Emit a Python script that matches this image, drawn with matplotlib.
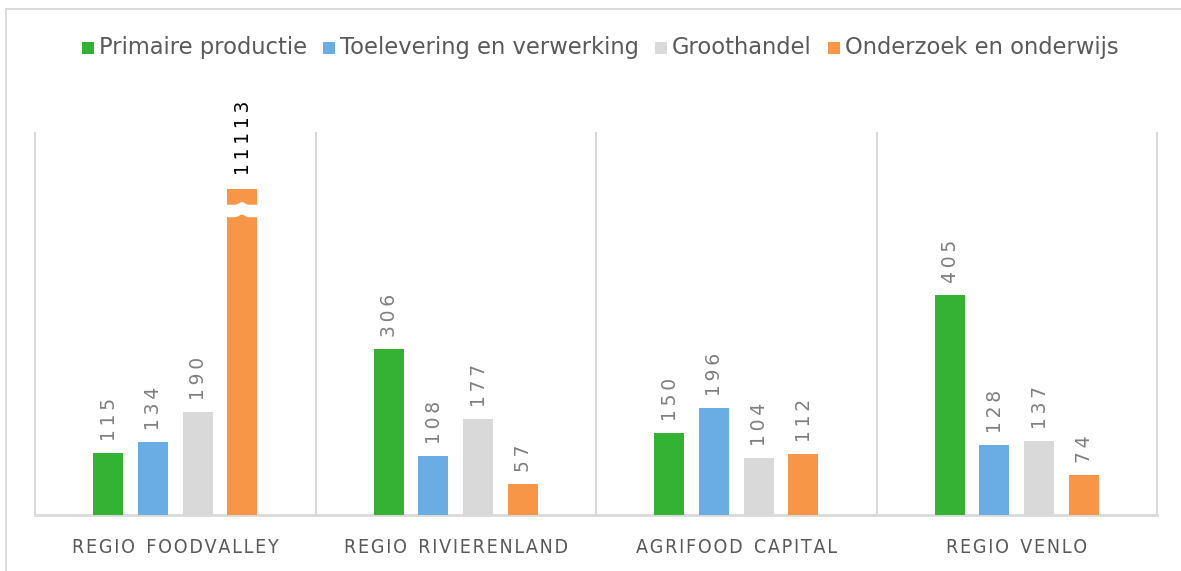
import matplotlib
matplotlib.use("Agg")
import matplotlib.pyplot as plt
import numpy as np
from matplotlib.patches import Rectangle, Polygon
from matplotlib import font_manager

categories = ["REGIO FOODVALLEY", "REGIO RIVIERENLAND", "AGRIFOOD CAPITAL", "REGIO VENLO"]
series = ["Primaire productie", "Toelevering en verwerking", "Groothandel", "Onderzoek en onderwijs"]
primaire = [115, 306, 150, 405]
toelevering = [134, 108, 196, 128]
groothandel = [190, 177, 104, 137]
onderzoek = [11113, 57, 112, 74]
colors = ["#33b234", "#6aade4", "#d9d9d9", "#f79646"]

cap_value = 600      # displayed height for the broken bar
ymax = 703

names = {f.name for f in font_manager.fontManager.ttflist}
narrow = "Liberation Sans Narrow" if "Liberation Sans Narrow" in names else None

W, H = 1181, 571
fig = plt.figure(figsize=(W/100, H/100), dpi=100)
ax = fig.add_axes([35/W, (H-515)/H, (1157-35)/W, (515-133)/H])
ax.set_xlim(-0.5, 3.5)
ax.set_ylim(0, ymax)
for s in ax.spines.values():
    s.set_visible(False)
ax.set_yticks([])
ax.set_xticks([])

data = [primaire, toelevering, groothandel, onderzoek]
offsets = [-0.238, -0.0795, 0.0795, 0.238]
width = 0.107
x = np.arange(len(categories))

def spaced(t):
    return "\u2009".join(t)

for si, (vals, off, col) in enumerate(zip(data, offsets, colors)):
    for xi, v in zip(x, vals):
        h = min(v, cap_value)
        ax.bar(xi + off, h, width, color=col, zorder=2)
        broken = v > cap_value
        ax.annotate(spaced(str(v)), (xi + off, h), xytext=(1, 12 if not broken else 14),
                    textcoords="offset pixels", rotation=90, ha="center", va="bottom",
                    fontsize=13.5, color="#000000" if broken else "#7f7f7f",
                    family="DejaVu Sans")
        if broken:
            bx0 = xi + off - width/2
            bx1 = xi + off + width/2
            t = np.linspace(0, 1, 40)
            bump = 5 * np.exp(-((t - 0.5) / 0.12) ** 2)
            xs = bx0 + (bx1 - bx0) * t
            top = 571 + bump
            bot = 548 + bump
            poly = np.vstack([np.column_stack([xs, bot]), np.column_stack([xs[::-1], top[::-1]])])
            ax.add_patch(Polygon(poly, closed=True, facecolor="white", edgecolor="none", zorder=3))

# separators and baseline
for sx in [-0.5, 0.5, 1.5, 2.5, 3.5]:
    ax.plot([sx, sx], [0, ymax], color="#d9d9d9", lw=1.5, zorder=1, clip_on=False)
ax.plot([-0.5, 3.5], [0, 0], color="#d9d9d9", lw=2, zorder=1, clip_on=False)

# category labels
for xi, c in zip(x, categories):
    if narrow:
        lab = "  ".join("\u2009".join(w) for w in c.split(" "))
        ax.text(xi, -0.085, lab, transform=ax.get_xaxis_transform(), ha="center", va="center",
                fontsize=15, color="#595959", family=narrow)
    else:
        lab = "  ".join("\u200a".join(w) for w in c.split(" "))
        ax.text(xi, -0.085, lab, transform=ax.get_xaxis_transform(), ha="center", va="center",
                fontsize=14, color="#595959", family="DejaVu Sans", fontstretch="condensed")

# legend (manual, baseline-aligned)
renderer = fig.canvas.get_renderer()
sq, gap_t, gap_e = 12, 5, 16
baseline_y = H - 54
texts, widths = [], []
for s in series:
    t = fig.text(0, baseline_y / H, s, fontsize=16.3, color="#595959", family="DejaVu Sans",
                 va="baseline", ha="left")
    texts.append(t)
    widths.append(t.get_window_extent(renderer).width)
total = sum(sq + gap_t + w for w in widths) + gap_e * (len(series) - 1)
cur = 600 - total / 2
for t, w, c in zip(texts, widths, colors):
    fig.add_artist(Rectangle((cur / W, (baseline_y) / H), sq / W, sq / H, transform=fig.transFigure,
                             facecolor=c, edgecolor="none"))
    t.set_x((cur + sq + gap_t) / W)
    cur += sq + gap_t + w + gap_e

# figure border
fig.add_artist(Rectangle((5.5/W, -0.05), 1.2, 1 - 9.5/H + 0.05, transform=fig.transFigure,
                         fill=False, edgecolor="#d9d9d9", lw=1.3))

fig.savefig("out.png", dpi=100)
